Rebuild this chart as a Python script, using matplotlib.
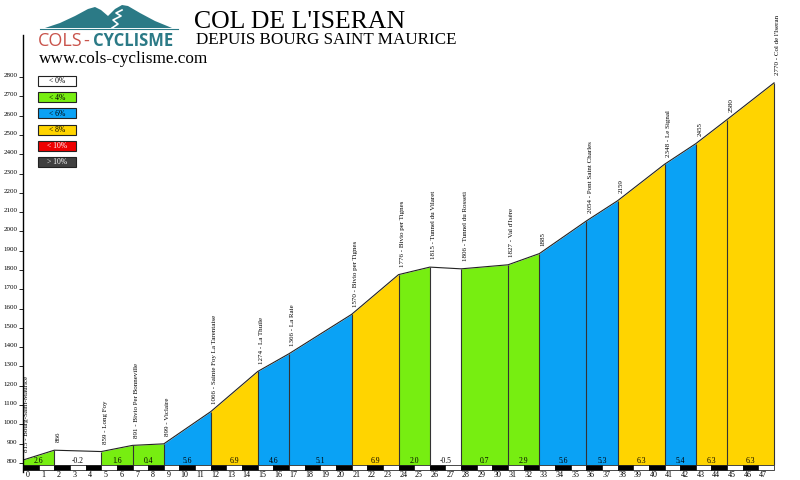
# -*- coding: utf-8 -*-

# Climb profile: Col de l'Iseran from Bourg Saint Maurice

import matplotlib
matplotlib.use('Agg')
from matplotlib import pyplot as plt
from matplotlib.patches import Polygon, Rectangle

# Profile data (km, altitude) and segment gradients
km = [0, 2, 5, 7, 9, 12, 15, 17, 21, 24, 26, 28, 31, 33, 36, 38, 41, 43, 45, 48]
alt = [815, 866, 859, 891, 899, 1066, 1274, 1366, 1570, 1776, 1815, 1806,
       1827, 1885, 2054, 2159, 2348, 2455, 2580, 2770]
pct = [2.6, -0.2, 1.6, 0.4, 5.6, 6.9, 4.6, 5.1, 6.9, 2.0, -0.5, 0.7, 2.9,
       5.6, 5.3, 6.3, 5.4, 6.3, 6.3]
names = ['Bourg-Saint-Maurice', '', 'Long Foy', 'Bivio Per Bonneville', 'Viclaire',
         'Sainte Foy La Tarentaise', 'La Thuile', 'La Raie', 'Bivio per Tignes',
         'Bivio per Tignes', 'Tunnel du Vilaret', 'Tunnel du Rosseti', "Val d'Isère",
         '', 'Pont Saint Charles', '', 'Le Signal', '', '', "Col de l'Iseran"]

legend_labels = ['< 0%', '< 4%', '< 6%', '< 8%', '< 10%', '> 10%']
legend_colors = ['#ffffff', '#77ee11', '#0aa2f5', '#ffd400', '#ee0000', '#404040']
legend_text = ['k', 'k', 'k', 'k', 'w', 'w']

W, H = 800, 480
SERIF = 'Liberation Serif'


def grade_color(p):
    if p < 0:
        return legend_colors[0]
    if p < 4:
        return legend_colors[1]
    if p < 6:
        return legend_colors[2]
    if p < 8:
        return legend_colors[3]
    if p < 10:
        return legend_colors[4]
    return legend_colors[5]


fig = plt.figure(figsize=(8, 4.8), dpi=100)

# pixel overlay for the logo / legend
deco = fig.add_axes([0, 0, 1, 1])
deco.set_xlim(0, W)
deco.set_ylim(H, 0)
deco.axis('off')

# main profile axes: km 0 at px 23, 800 m at px 463
ax = fig.add_axes([23 / W, 8 / H, 766.7 / W, 437 / H])
ax.patch.set_alpha(0)
ax.set_xlim(0, 49)
ax.set_ylim(753, 3018)

base = 790
for i in range(len(pct)):
    ax.fill_between([km[i], km[i + 1]], [base, base], [alt[i], alt[i + 1]],
                    color=grade_color(pct[i]), lw=0)
    ax.text((km[i] + km[i + 1]) / 2, 812, '%.1f' % pct[i], ha='center', va='center',
            fontsize=5.5, family=SERIF)
ax.plot(km, alt, color='#222222', lw=0.8)
ax.vlines(km[1:], base, alt[1:], color='#333333', lw=0.8)

# point labels
for x, a, n in zip(km, alt, names):
    s = '%d - %s' % (a, n) if n else '%d' % a
    ax.text(x + 0.25, a + 40, s, rotation=90, ha='center', va='bottom',
            fontsize=5, family=SERIF)

# km strip
nkm = 48
ax.bar(range(nkm), 25, bottom=765, width=1, align='edge',
       color=['k' if i % 2 == 0 else 'w' for i in range(nkm)],
       edgecolor='k', lw=0.5)
for i in range(nkm):
    ax.text(i + 0.3, 736, str(i), ha='center', va='center', fontsize=5.8, family=SERIF)

ax.set_yticks(range(800, 2900, 100))
ax.set_yticklabels([str(v) for v in range(800, 2900, 100)], fontsize=5, family=SERIF)
for lbl in ax.get_yticklabels():
    lbl.set_verticalalignment('baseline')
ax.tick_params(axis='y', length=3, width=0.6, pad=1)
ax.set_xticks([])
for s in ['top', 'right', 'bottom']:
    ax.spines[s].set_visible(False)
ax.spines['left'].set_linewidth(1.0)

# legend boxes
for j, (lab, col, tc) in enumerate(zip(legend_labels, legend_colors, legend_text)):
    y0 = 76 + j * 16.2
    deco.add_patch(Rectangle((38, y0), 38, 10, facecolor=col, edgecolor='#222222', lw=0.8))
    deco.text(57, y0 + 5.3, lab, ha='center', va='center', fontsize=5.5,
              family=SERIF, color=tc)

# logo
teal = '#2b7a86'
mountain = [(45, 28), (60, 23), (75, 16), (88, 9), (95, 7), (101, 10), (108, 16),
            (115, 9), (122, 5), (128, 6), (140, 13), (155, 21), (172, 28)]
deco.add_patch(Polygon(mountain, closed=True, facecolor=teal, edgecolor='none'))
deco.plot([112, 118, 113, 121, 116, 122], [28, 24, 20, 16, 13, 10], color='white', lw=1.2)
deco.plot([40, 178], [28.5, 28.5], color=teal, lw=0.8)
deco.text(38, 46, 'COLS', fontsize=13, family='Open Sans', color='#c9534b',
          va='baseline', ha='left')
deco.text(83, 46, '-', fontsize=13, family='Open Sans', color='#c9534b',
          va='baseline', ha='left')
deco.text(93, 46, 'CYCLISME', fontsize=12, family='Open Sans', color=teal,
          fontweight='bold', va='baseline', ha='left')

# titles
deco.text(194, 28, "COL DE L'ISERAN", fontsize=18.5, family=SERIF, va='baseline')
deco.text(196, 43.5, 'DEPUIS BOURG SAINT MAURICE', fontsize=12.3, family=SERIF, va='baseline')
deco.text(39, 63, 'www.cols-cyclisme.com', fontsize=12.4, family=SERIF, va='baseline')

plt.savefig('out.png', dpi=100)
